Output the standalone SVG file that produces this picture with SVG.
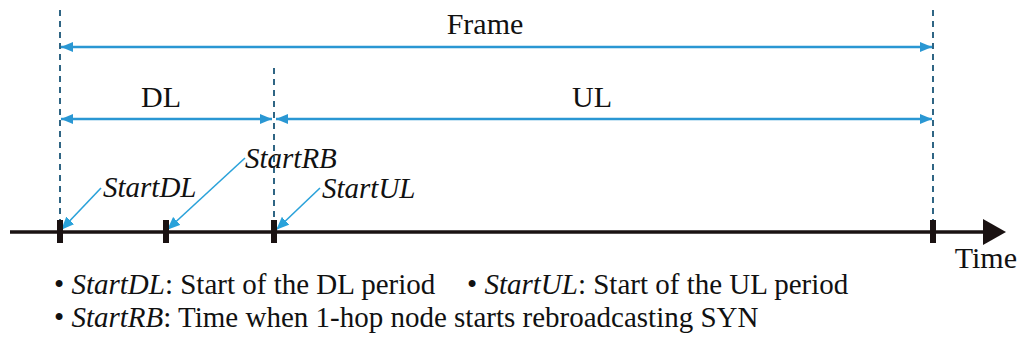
<svg xmlns="http://www.w3.org/2000/svg" width="1022" height="342" viewBox="0 0 1022 342">
<style>
.t{font-family:"Liberation Serif","Times New Roman",serif;fill:#111}
.i{font-style:italic}
.dash{stroke:#2f6584;stroke-width:2;stroke-dasharray:6 5;fill:none}
.dim{stroke:#2a97d3;stroke-width:2.5;fill:none}
.lead{stroke:#2aa2da;stroke-width:1.6;fill:none}
.tick{fill:#1a1212}
</style>
<defs>
<marker id="ab" viewBox="0 0 12 10" refX="12" refY="5" markerWidth="12" markerHeight="10" markerUnits="userSpaceOnUse" orient="auto-start-reverse">
<path d="M0,0 L12,5 L0,10 Z" fill="#2a97d3"/>
</marker>
<marker id="al" viewBox="0 0 12 10" refX="11" refY="5" markerWidth="13" markerHeight="11" markerUnits="userSpaceOnUse" orient="auto">
<path d="M0,0 L12,5 L0,10 Z" fill="#2aa2da"/>
</marker>
</defs>
<g id="guides">
<line class="dash" x1="60" y1="10" x2="60" y2="232"/>
<line class="dash" x1="274" y1="68" x2="274" y2="232"/>
<line class="dash" x1="933" y1="10" x2="933" y2="232"/>
</g>
<g id="connectors">
<line class="dim" x1="61" y1="47" x2="932" y2="47" marker-start="url(#ab)" marker-end="url(#ab)"/>
<line class="dim" x1="61" y1="119" x2="272" y2="119" marker-start="url(#ab)" marker-end="url(#ab)"/>
<line class="dim" x1="276" y1="119" x2="932" y2="119" marker-start="url(#ab)" marker-end="url(#ab)"/>
<line class="lead" x1="101" y1="188" x2="62" y2="229" marker-end="url(#al)"/>
<line class="lead" x1="245" y1="158" x2="168" y2="229" marker-end="url(#al)"/>
<line class="lead" x1="320" y1="188" x2="277" y2="229" marker-end="url(#al)"/>
</g>
<g id="timeline">
<line x1="10" y1="232" x2="985" y2="232" stroke="#1a1212" stroke-width="3.5"/>
<path d="M983,219 L1006,232 L983,245 Z" fill="#1a1212"/>
<rect class="tick" x="57" y="220" width="6" height="23"/>
<rect class="tick" x="163" y="220" width="6" height="23"/>
<rect class="tick" x="271" y="220" width="6" height="23"/>
<rect class="tick" x="930" y="220" width="6" height="23"/>
</g>
<g id="labels">
<text class="t" x="485" y="34" font-size="30" text-anchor="middle">Frame</text>
<text class="t" x="161" y="107" font-size="30" text-anchor="middle">DL</text>
<text class="t" x="592" y="107" font-size="30" text-anchor="middle">UL</text>
<text class="t i" x="103" y="197" font-size="29">StartDL</text>
<text class="t i" x="245" y="168" font-size="29">StartRB</text>
<text class="t i" x="322" y="198" font-size="29">StartUL</text>
<text class="t" x="1017" y="268" font-size="30" text-anchor="end">Time</text>
</g>
<g id="legend">
<text class="t" x="54" y="294" font-size="29">• <tspan class="i">StartDL</tspan>: Start of the DL period</text>
<text class="t" x="467" y="294" font-size="29">• <tspan class="i">StartUL</tspan>: Start of the UL period</text>
<text class="t" x="54" y="327" font-size="29">• <tspan class="i">StartRB</tspan>: Time when 1-hop node starts rebroadcasting SYN</text>
</g>
</svg>
